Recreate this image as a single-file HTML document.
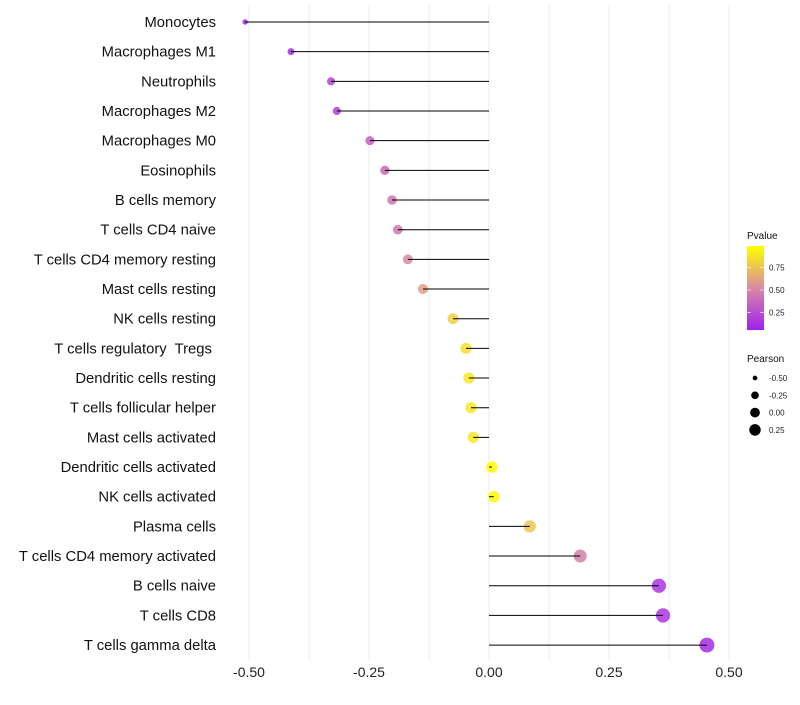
<!DOCTYPE html>
<html><head><meta charset="utf-8"><style>
body{margin:0;background:#fff;font-family:"Liberation Sans",sans-serif;}
svg text{font-family:"Liberation Sans",sans-serif;white-space:pre;}
</style></head><body>
<svg id="chart" width="800" height="700" xmlns="http://www.w3.org/2000/svg">
<defs><linearGradient id="pg" x1="0" y1="1" x2="0" y2="0">
<stop offset="0" stop-color="#a020f0"/><stop offset="0.5" stop-color="#d98aa2"/><stop offset="1" stop-color="#ffff00"/></linearGradient></defs>
<g id="grid"></g><g id="marks"></g><g id="labels"></g><g id="legend"></g>
</svg>
<script>
const categories=["Monocytes","Macrophages M1","Neutrophils","Macrophages M2","Macrophages M0","Eosinophils","B cells memory","T cells CD4 naive","T cells CD4 memory resting","Mast cells resting","NK cells resting","T cells regulatory  Tregs ","Dendritic cells resting","T cells follicular helper","Mast cells activated","Dendritic cells activated","NK cells activated","Plasma cells","T cells CD4 memory activated","B cells naive","T cells CD8","T cells gamma delta"];
const pearson=[-0.508,-0.4125,-0.329,-0.317,-0.248,-0.217,-0.202,-0.19,-0.169,-0.1375,-0.075,-0.048,-0.042,-0.0375,-0.033,0.006,0.01,0.085,0.19,0.354,0.3625,0.454];
const pvalue=[0.02,0.05,0.15,0.15,0.3,0.35,0.4,0.42,0.5,0.6,0.8,0.87,0.9,0.9,0.9,0.99,0.98,0.75,0.45,0.1,0.1,0.05];
const xTicks=[-0.5,-0.25,0,0.25,0.5];
const xTickLabels=["-0.50","-0.25","0.00","0.25","0.50"];
const pLegend=[0.25,0.5,0.75];
const sizeLegend=[-0.5,-0.25,0,0.25];
const NS="http://www.w3.org/2000/svg";
const X=v=>489+v*480;
const Y=i=>22+i*29.67;
const R=v=>Math.sqrt(Math.max(2,33+50.5*v));
function lerp(a,b,t){return a.map((x,i)=>Math.round(x+(b[i]-x)*t));}
function col(p){const lo=[160,32,240],mid=[217,138,162],hi=[255,255,0];
 const c=p<0.5?lerp(lo,mid,p/0.5):lerp(mid,hi,(p-0.5)/0.5);return `rgb(${c})`;}
function mk(tag,attrs,parent,txt){const e=document.createElementNS(NS,tag);for(const k in attrs)e.setAttribute(k,attrs[k]);if(txt!==undefined)e.textContent=txt;parent.appendChild(e);return e;}
const grid=document.getElementById('grid'),marks=document.getElementById('marks'),labels=document.getElementById('labels'),legend=document.getElementById('legend');
for(let v=-0.5;v<=0.5001;v+=0.125){const l=mk('line',{x1:X(v),x2:X(v),y1:5,y2:660,stroke:'#ebebeb','stroke-width':1},grid);

}
categories.forEach((c,i)=>{
 const t=mk('text',{x:216,y:Y(i)+5,'text-anchor':'end','font-size':14.8,fill:'#111'},labels,c);
 
 
 const p=mk('circle',{cx:X(pearson[i]),cy:Y(i),r:R(pearson[i]),fill:col(pvalue[i]),'fill-opacity':0.85},marks);
 
 
});
categories.forEach((c,i)=>{
 const s=mk('line',{x1:X(0),x2:X(pearson[i]),y1:Y(i),y2:Y(i),stroke:'#000','stroke-width':1},marks);
 
 
});
xTicks.forEach((v,i)=>{const t=mk('text',{x:X(v),y:677,'text-anchor':'middle','font-size':14,fill:'#222'},labels,xTickLabels[i]);
 
 });
let t=mk('text',{x:747,y:239,'font-size':10,fill:'#111'},legend,'Pvalue');


let r=mk('rect',{x:747,y:246,width:17,height:84,fill:'url(#pg)'},legend);


pLegend.forEach(v=>{const y=335-v*90;
 mk('line',{x1:747,x2:751,y1:y,y2:y,stroke:'#fff','stroke-opacity':0.6},legend);
 mk('line',{x1:760,x2:764,y1:y,y2:y,stroke:'#fff','stroke-opacity':0.6},legend);
 const tt=mk('text',{x:769,y:y+3,'font-size':8,fill:'#222'},legend,v.toFixed(2));
 
 });
t=mk('text',{x:747,y:362,'font-size':10,fill:'#111'},legend,'Pearson');


sizeLegend.forEach((v,i)=>{const y=378+i*17.3;
 const c=mk('circle',{cx:755,cy:y,r:R(v)*0.85,fill:'#000'},legend);
 
 
 const tt=mk('text',{x:769,y:y+3,'font-size':8,fill:'#222'},legend,v.toFixed(2));
 
 });
</script>
</body></html>
